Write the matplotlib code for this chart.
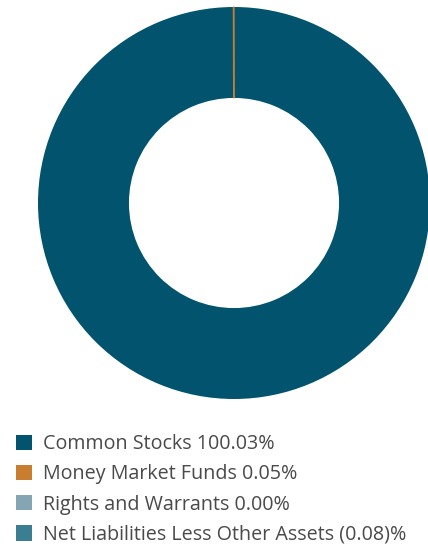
import matplotlib
matplotlib.use("Agg")
import matplotlib.pyplot as plt
from matplotlib.patches import Patch

categories = ["Common Stocks", "Money Market Funds", "Rights and Warrants", "Net Liabilities Less Other Assets"]
values = [100.03, 0.05, 0.00, -0.08]
labels = ["100.03%", "0.05%", "0.00%", "(0.08)%"]
colors = ["#02546e", "#c97d2e", "#85a5b5", "#3b7d91"]

W, H = 428, 548
fig = plt.figure(figsize=(W / 100, H / 100), dpi=100)
fig.patch.set_facecolor("white")

ax = fig.add_axes([38 / W, (H - 399) / H, 392 / W, 392 / H])
pie_vals = [v for v in values if v > 0]
pie_cols = [c for v, c in zip(values, colors) if v > 0]
wedges, _ = ax.pie(pie_vals, colors=pie_cols, startangle=90, counterclock=False,
                   radius=1.0, wedgeprops=dict(width=0.464, linewidth=0))
wedges[1].set_edgecolor(pie_cols[1])
wedges[1].set_linewidth(0.9)
ax.set_xlim(-1, 1)
ax.set_ylim(-1, 1)
ax.set_aspect("equal")
ax.axis("off")

handles = [Patch(facecolor=c, edgecolor="none") for c in colors]
texts = [f"{n} {l}" for n, l in zip(categories, labels)]
fs = 14.2
leg = fig.legend(handles, texts, loc="upper left", bbox_to_anchor=(16 / W, 1 - 434 / H),
                 frameon=False, handlelength=0.81, handleheight=0.81,
                 handletextpad=0.56, labelspacing=0.52, borderaxespad=0, borderpad=0,
                 prop=dict(family="Open Sans", size=fs))
for t in leg.get_texts():
    t.set_color("#4a4a4a")

fig.savefig("out.png", dpi=100)
